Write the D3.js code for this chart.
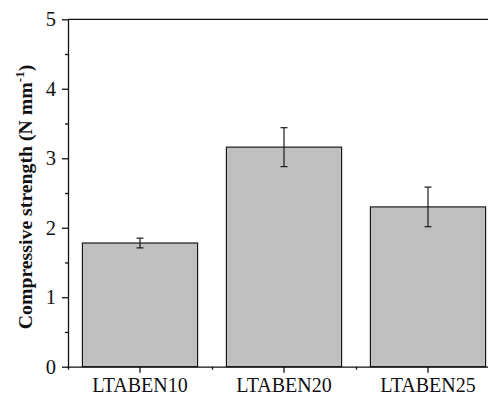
<!DOCTYPE html>
<html><head><meta charset="utf-8">
<script src="https://cdn.jsdelivr.net/npm/d3@7"></script>
<style>body{margin:0;background:#fff}svg{display:block}text{font-family:"Liberation Serif","Times New Roman",serif}</style>
</head><body>
<svg id="c" width="488" height="397"></svg>
<script>
const categories = ["LTABEN10", "LTABEN20", "LTABEN25"];
const values = [1.78, 3.16, 2.30];
const errors = [0.07, 0.28, 0.285];
const yTicks = [0, 1, 2, 3, 4, 5];
const yMinorTicks = [0.5, 1.5, 2.5, 3.5, 4.5];

(function () {
const svg = d3.select("#c");
const mL = 68, mR = 500, mT = 19.3, mB = 366.7;
const x = d3.scaleBand().domain(categories).range([mL, mR]).paddingInner(0.2).paddingOuter(0.1);
const y = d3.scaleLinear().domain([0, 5]).range([mB, mT]);

// bars
svg.selectAll("rect.bar").data(values).join("rect")
  .attr("x", (d, i) => x(categories[i]))
  .attr("y", d => y(d))
  .attr("width", x.bandwidth())
  .attr("height", d => y(0) - y(d))
  .attr("fill", "#c0c0c0").attr("stroke", "#1a1a1a").attr("stroke-width", 1.2);

// error bars
const eg = svg.append("g").attr("stroke", "#1a1a1a").attr("stroke-width", 1.2);
values.forEach((v, i) => {
  const cx = x(categories[i]) + x.bandwidth() / 2;
  eg.append("line").attr("x1", cx).attr("x2", cx).attr("y1", y(v + errors[i])).attr("y2", y(v - errors[i]));
  [v + errors[i], v - errors[i]].forEach(e => {
    eg.append("line").attr("x1", cx - 3.5).attr("x2", cx + 3.5).attr("y1", y(e)).attr("y2", y(e));
  });
});

// top spine
svg.append("line").attr("x1", mL).attr("x2", mR).attr("y1", mT).attr("y2", mT)
  .attr("stroke", "#111").attr("stroke-width", 1.3);

// y axis
const ya = svg.append("g").attr("transform", `translate(${mL},0)`)
  .call(d3.axisLeft(y).tickValues(yTicks).tickFormat(d3.format("d")).tickSize(6).tickSizeOuter(0).tickPadding(6));
svg.append("g").attr("transform", `translate(${mL},0)`)
  .call(d3.axisLeft(y).tickValues(yMinorTicks).tickFormat("").tickSize(3).tickSizeOuter(0))
  .select(".domain").remove();

// x axis
const xa = svg.append("g").attr("transform", `translate(0,${mB})`)
  .call(d3.axisBottom(x).tickSize(6).tickSizeOuter(0).tickPadding(5));
const bounds = [mL, mL + x.step(), mL + 2 * x.step(), mR];
const xm = d3.scaleLinear().domain([0, 1]).range([0, 1]);
svg.append("g").attr("transform", `translate(0,${mB})`)
  .call(d3.axisBottom(xm).tickValues(bounds).tickFormat("").tickSize(3).tickSizeOuter(0))
  .select(".domain").remove();

svg.selectAll(".domain, .tick line").attr("stroke", "#111").attr("stroke-width", 1.3);
ya.selectAll("text").attr("font-size", 20.5).attr("fill", "#111");
xa.selectAll("text").attr("font-size", 20).attr("fill", "#111");

// y label
const lab = svg.append("text")
  .attr("transform", `translate(32,197) rotate(-90)`)
  .attr("text-anchor", "middle").attr("font-size", 19.8).attr("font-weight", "bold").attr("fill", "#111");
lab.append("tspan").text("Compressive strength (N mm");
lab.append("tspan").attr("font-size", 13).attr("dy", -8).text("-1");
lab.append("tspan").attr("dy", 8).text(")");
})();
</script>
</body></html>
